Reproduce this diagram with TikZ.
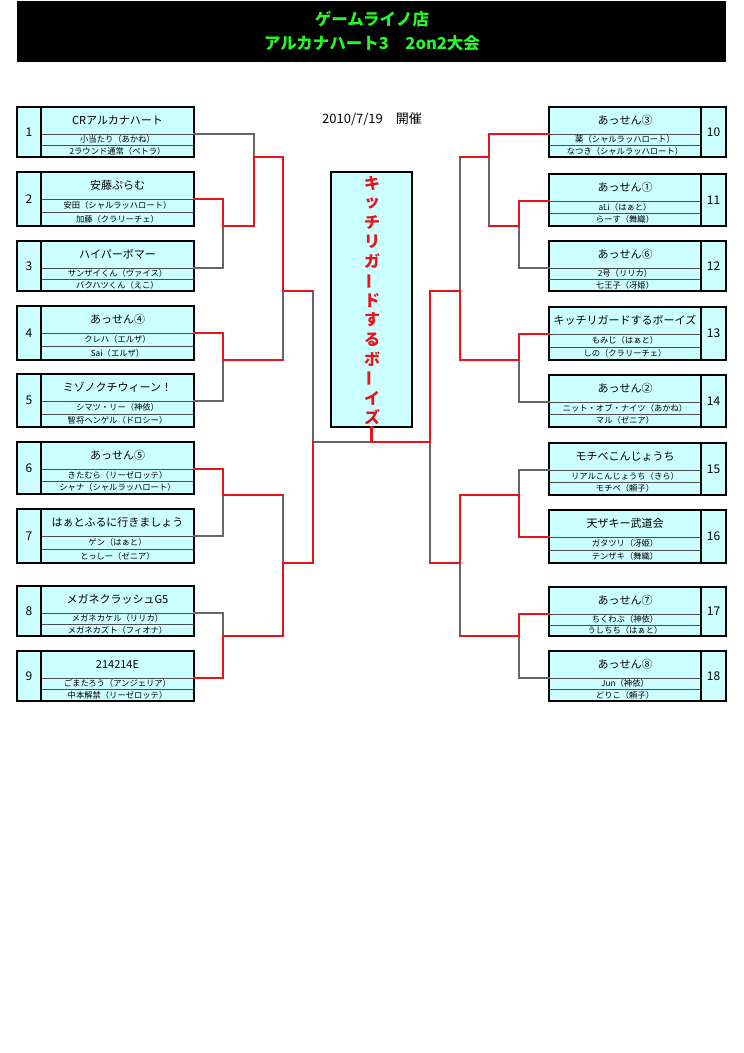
\documentclass[tikz,border=0pt]{standalone}
\usepackage{fontspec}
\setmainfont{Noto Sans CJK JP}
\usetikzlibrary{calc}
\definecolor{cellcyan}{RGB}{204,255,255}
\definecolor{winred}{RGB}{232,20,28}
\definecolor{titlegreen}{RGB}{40,245,40}

\tikzset{
  cellbox/.style={draw=black,line width=1.1pt,fill=cellcyan},
  rowline/.style={draw=black!70,line width=0.7pt},
  numtext/.style={font=\fontsize{12}{12}\selectfont,inner sep=0pt},
  nametext/.style={font=\fontsize{11}{11}\selectfont,inner sep=0pt},
  membertext/.style={font=\fontsize{8.3}{8.3}\selectfont,inner sep=0pt},
  win/.style={draw=winred,line width=2.2pt,line cap=rect},
  lose/.style={draw=black!60,line width=1.5pt,line cap=rect},
  champtext/.style={text=winred,font=\fontsize{16}{16}\selectfont\bfseries,inner sep=0pt}
}

% left team: id, top, bottom, number, name, member 1, member 2
\newcommand{\lteam}[7]{%
  \filldraw[cellbox] (17,#2) rectangle (194,#3);
  \draw[rowline] (41,{#2+27}) -- (194,{#2+27});
  \draw[rowline] (41,{(#2+27+#3)/2}) -- (194,{(#2+27+#3)/2});
  \draw[cellbox,fill=none] (41,#2) -- (41,#3);
  \node[numtext] (num#1) at (29,{(#2+#3)/2}) {#4};
  \node[nametext] (name#1) at (117.5,{#2+13.5}) {#5};
  \node[membertext] (ma#1) at (117.5,{#2+27+(#3-#2-27)/4}) {#6};
  \node[membertext] (mb#1) at (117.5,{#3-(#3-#2-27)/4}) {#7};
  \coordinate (o#1) at (194,{#2+27});
}
% right team
\newcommand{\rteam}[7]{%
  \filldraw[cellbox] (549,#2) rectangle (726,#3);
  \draw[rowline] (549,{#2+27}) -- (701,{#2+27});
  \draw[rowline] (549,{(#2+27+#3)/2}) -- (701,{(#2+27+#3)/2});
  \draw[cellbox,fill=none] (701,#2) -- (701,#3);
  \node[numtext] (num#1) at (713.5,{(#2+#3)/2}) {#4};
  \node[nametext] (name#1) at (625,{#2+13.5}) {#5};
  \node[membertext] (ma#1) at (625,{#2+27+(#3-#2-27)/4}) {#6};
  \node[membertext] (mb#1) at (625,{#3-(#3-#2-27)/4}) {#7};
  \coordinate (o#1) at (549,{#2+27});
}

\begin{document}
\begin{tikzpicture}[x=1pt,y=-1pt]
\useasboundingbox (0,0) rectangle (744,1053);
\fill[white] (0,0) rectangle (744,1053);

\fill[black] (17,1) rectangle (726,62);
\node[text=titlegreen,font=\fontsize{16.5}{16.5}\selectfont\bfseries] (title1) at (372,19) {ゲームライノ店};
\node[text=titlegreen,font=\fontsize{16.5}{16.5}\selectfont\bfseries] (title2) at (372,43) {アルカナハート3　2on2大会};
\node[font=\fontsize{13}{13}\selectfont] (date) at (372,119) {2010/7/19　開催};

\lteam{1}{107}{157}{1}{CRアルカナハート}{小当たり（あかね）}{2ラウンド通常（ペトラ）}
\lteam{2}{172}{226}{2}{安藤ぷらむ}{安田（シャルラッハロート）}{加藤（クラリーチェ）}
\lteam{3}{241}{291}{3}{ハイパーボマー}{サンザイくん（ヴァイス）}{バクハツくん（えこ）}
\lteam{4}{306}{360}{4}{あっせん④}{クレハ（エルザ）}{Sai（エルザ）}
\lteam{5}{374}{427}{5}{ミゾノクチウィーン！}{シマツ・リー（神依）}{智将ヘンゲル（ドロシー）}
\lteam{6}{442}{494}{6}{あっせん⑤}{きたむら（リーゼロッテ）}{シャナ（シャルラッハロート）}
\lteam{7}{509}{563}{7}{はぁとふるに行きましょう}{ゲン（はぁと）}{とっしー（ゼニア）}
\lteam{8}{586}{636}{8}{メガネクラッシュG5}{メガネカケル（リリカ）}{メガネカズト（フィオナ）}
\lteam{9}{651}{701}{9}{214214E}{ごまたろう（アンジェリア）}{中本解禁（リーゼロッテ）}

\rteam{10}{107}{157}{10}{あっせん③}{薬（シャルラッハロート）}{なつき（シャルラッハロート）}
\rteam{11}{174}{226}{11}{あっせん①}{aLi（はぁと）}{らーす（舞織）}
\rteam{12}{241}{291}{12}{あっせん⑥}{2号（リリカ）}{七王子（冴姫）}
\rteam{13}{307}{360}{13}{キッチリガードするボーイズ}{もみじ（はぁと）}{しの（クラリーチェ）}
\rteam{14}{375}{427}{14}{あっせん②}{ニット・オブ・ナイツ（あかね）}{マル（ゼニア）}
\rteam{15}{443}{495}{15}{モチベこんじょうち}{リアルこんじょうち（きら）}{モチベ（頼子）}
\rteam{16}{510}{563}{16}{天ザキー武道会}{ガタツリ（冴姫）}{テンザキ（舞織）}
\rteam{17}{587}{636}{17}{あっせん⑦}{ちくわぶ（神依）}{うしちち（はぁと）}
\rteam{18}{651}{701}{18}{あっせん⑧}{Jun（神依）}{どりこ（頼子）}

\node[draw=black,line width=1.1pt,fill=cellcyan,minimum width=81pt,minimum height=255pt] (champ) at (371.5,299.5) {};
\foreach \c/\r [count=\i] in {キ/0,ッ/0,チ/0,リ/0,ガ/0,ー/90,ド/0,す/0,る/0,ボ/0,ー/90,イ/0,ズ/0}
  \node[champtext,rotate=\r] (ch\i) at (372,{164+19.5*\i}) {\c};

\coordinate (a23) at (223,226);
\coordinate (a1) at (254,157);
\coordinate (a45) at (223,360);
\coordinate (k45) at (283,360);
\coordinate (b13) at (283,291);
\coordinate (k13) at (313,291);
\coordinate (a67) at (223,495);
\coordinate (k67) at (283,495);
\coordinate (a89) at (223,636);
\coordinate (b69) at (283,563);
\coordinate (cL) at (313,442);
\coordinate (cC) at (371.5,442);
\coordinate (cR) at (430,442);
\coordinate (a10) at (489,157);
\coordinate (k10) at (460,157);
\coordinate (a1112) at (519,226);
\coordinate (k1112) at (489,226);
\coordinate (a1314) at (519,360);
\coordinate (b1014) at (460,291);
\coordinate (a1516) at (519,495);
\coordinate (a1718) at (519,636);
\coordinate (k1718) at (460,636);
\coordinate (b1518) at (460,563);
\coordinate (k1518) at (430,563);

\draw[lose] (o1) -| (a1);
\draw[lose] (o3) -| (a23);
\draw[lose] (o5) -| (a45);
\draw[lose] (k45) -- (b13);
\draw[lose] (k13) -- (cL);
\draw[lose] (o7) -| (a67);
\draw[lose] (k67) -- (b69);
\draw[lose] (o8) -| (a89);
\draw[lose] (cL) -- (cC);
\draw[lose] (k10) -- (b1014);
\draw[lose] (o12) -| (a1112);
\draw[lose] (k1112) -- (a10);
\draw[lose] (o14) -| (a1314);
\draw[lose] (o15) -| (a1516);
\draw[lose] (o18) -| (a1718);
\draw[lose] (k1718) -- (b1518);
\draw[lose] (k1518) -- (cR);

\draw[win] (o2) -| (a23);
\draw[win] (a23) -| (a1);
\draw[win] (a1) -| (b13);
\draw[win] (o4) -| (a45);
\draw[win] (a45) -- (k45);
\draw[win] (b13) -- (k13);
\draw[win] (o6) -| (a67);
\draw[win] (a67) -- (k67);
\draw[win] (o9) -| (a89);
\draw[win] (a89) -| (b69);
\draw[win] (b69) -| (cL);
\draw[win] (champ.south) -- (cC) -- (cR);
\draw[win] (o10) -| (a10);
\draw[win] (a10) -- (k10);
\draw[win] (o11) -| (a1112);
\draw[win] (a1112) -- (k1112);
\draw[win] (o13) -| (a1314);
\draw[win] (a1314) -| (b1014);
\draw[win] (b1014) -| (cR);
\draw[win] (o16) -| (a1516);
\draw[win] (a1516) -| (b1518);
\draw[win] (o17) -| (a1718);
\draw[win] (a1718) -- (k1718);
\draw[win] (b1518) -- (k1518);
\end{tikzpicture}
\end{document}
